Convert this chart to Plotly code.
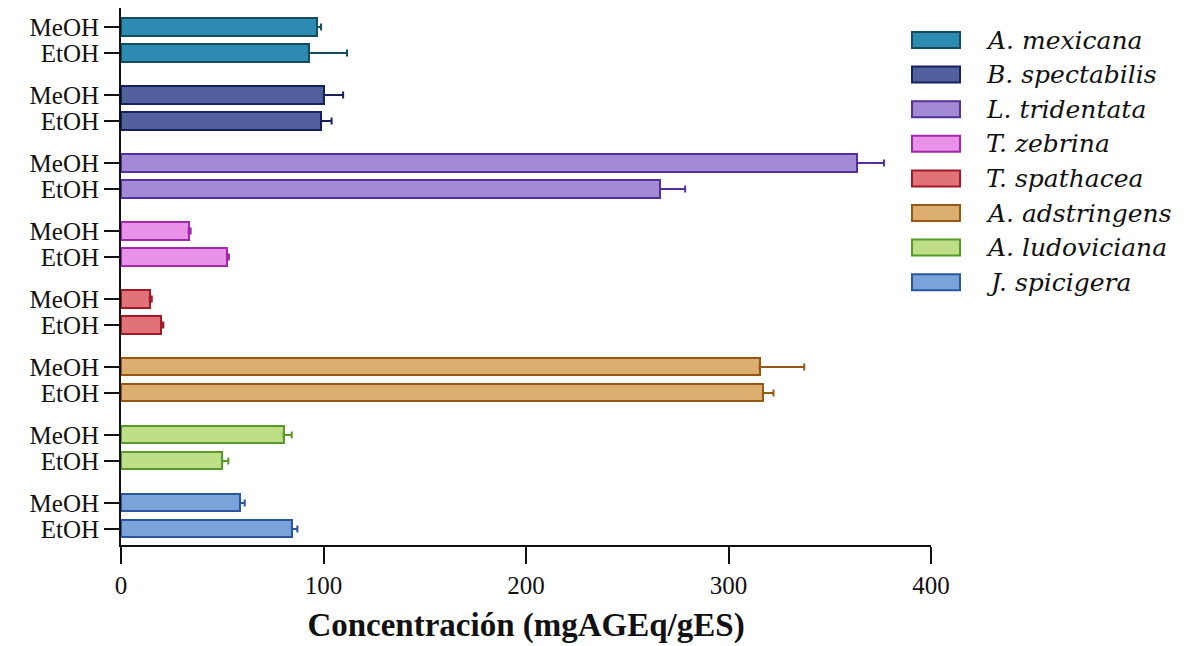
import plotly.graph_objects as go

# Species, in drawing order (top to bottom)
species = ["A. mexicana", "B. spectabilis", "L. tridentata", "T. zebrina",
           "T. spathacea", "A. adstringens", "A. ludoviciana", "J. spicigera"]
solvents = ["MeOH", "EtOH"]

# Concentration means (mgAGEq/gES)
meoh_vals = [96.8, 100.2, 363.5, 33.4, 14.2, 315.4, 80.3, 58.8]
etoh_vals = [92.8, 98.8, 266.2, 52.3, 19.9, 317.0, 50.0, 84.4]
# Error (one-sided, +)
meoh_err = [2.0, 9.5, 13.3, 1.0, 1.0, 22.0, 4.0, 2.3]
etoh_err = [18.8, 5.2, 12.4, 1.0, 1.0, 5.2, 3.0, 2.7]

x_ticks = [0, 100, 200, 300, 400]

fills = ["#2d8ab0", "#52609e", "#a38ad4", "#ea92ea",
         "#e07278", "#dcae70", "#bedf88", "#7aa3da"]
edges = ["#164c62", "#18205e", "#54309c", "#a22aa6",
         "#a21a2a", "#965812", "#579a28", "#2a56a0"]

FONT = "Liberation Serif, Times New Roman, DejaVu Serif, serif"
ITALIC_FONT = "DejaVu Serif, serif"
GROUP_STEP = 68 / 26  # spacing between species groups, in row units

fig = go.Figure()
tickvals, ticktext = [], []
for g, name in enumerate(species):
    base = g * GROUP_STEP
    ys = [base, base + 1]
    tickvals += ys
    ticktext += solvents
    fig.add_trace(go.Bar(
        y=ys, x=[meoh_vals[g], etoh_vals[g]], orientation="h",
        width=0.66, name=name, showlegend=False,
        marker=dict(color=fills[g], line=dict(color=edges[g], width=2)),
        error_x=dict(type="data", array=[meoh_err[g], etoh_err[g]],
                     symmetric=False, arrayminus=[0, 0],
                     color=edges[g], thickness=2, width=3.5),
    ))

# Legend built as swatch rectangles + italic labels on the right
shapes, annotations = [], []
leg_y0 = 40
leg_step = 34.6
for i, name in enumerate(species):
    yc = leg_y0 + i * leg_step
    shapes.append(dict(type="rect", xref="paper", yref="paper",
                       x0=(912 - 121) / 810, x1=(960 - 121) / 810,
                       y0=1 - (yc - 8 - 8) / 537, y1=1 - (yc + 8 - 8) / 537,
                       fillcolor=fills[i], line=dict(color=edges[i], width=2)))
    annotations.append(dict(xref="paper", yref="paper",
                            x=(984 - 121) / 810, y=1 - (yc - 8) / 537,
                            xanchor="left", yanchor="middle", showarrow=False,
                            text=name,
                            font=dict(family=ITALIC_FONT, size=25,
                                      style="italic", color="#111")))

last = (len(species) - 1) * GROUP_STEP + 1
fig.update_layout(
    width=1192, height=646,
    margin=dict(l=121, r=261, t=8, b=101),
    paper_bgcolor="white", plot_bgcolor="white",
    barmode="overlay", bargap=0,
    shapes=shapes, annotations=annotations,
    xaxis=dict(range=[0, 400], tickvals=x_ticks, ticks="outside", ticklen=17,
               tickwidth=2, tickcolor="#111", showline=True, linewidth=2,
               linecolor="#111", showgrid=False, zeroline=False,
               tickfont=dict(family=FONT, size=25, color="#111"),
               title=dict(text="Concentración (mgAGEq/gES)",
                          font=dict(family=FONT, size=33, weight="bold",
                                    color="#111"),
                          standoff=15)),
    yaxis=dict(range=[last + 0.62, -0.73], tickvals=tickvals, ticktext=ticktext,
               ticks="outside", ticklen=15, tickwidth=2, tickcolor="#111",
               showline=True, linewidth=2, linecolor="#111", showgrid=False,
               zeroline=False,
               tickfont=dict(family=FONT, size=25, color="#111")),
)

fig.write_html("out.html")
